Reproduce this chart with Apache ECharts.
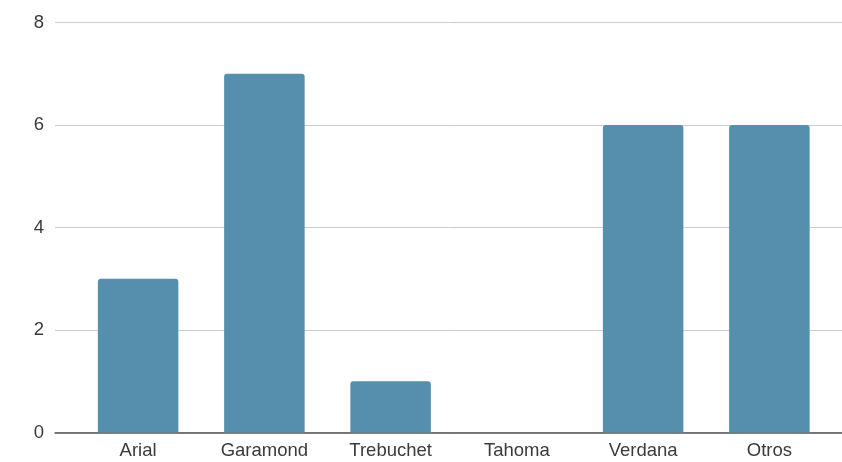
<!DOCTYPE html>
<html><head><meta charset="utf-8">
<script src="https://cdn.jsdelivr.net/npm/echarts@6/dist/echarts.min.js"></script>
<style>html,body{margin:0;padding:0;background:#fff}#c{width:842px;height:462px}</style>
</head><body><div id="c"></div>
<script>
const categories = ["Arial", "Garamond", "Trebuchet", "Tahoma", "Verdana", "Otros"];
const values = [3, 7, 1, 0, 6, 6];
const yTicks = [0, 2, 4, 6, 8];

const chart = echarts.init(document.getElementById('c'), null, {renderer: 'canvas'});
const font = 'Arial, "Liberation Sans", sans-serif';
chart.setOption({
  animation: false,
  backgroundColor: '#fff',
  grid: [
    {left: 55, right: 0, top: 22.5, bottom: 29.5},
    {left: 75, right: 9.5, top: 22.5, bottom: 29.5}
  ],
  xAxis: [
    {gridIndex: 0, type: 'category', data: categories, axisLabel: {show: false}, axisTick: {show: false},
     axisLine: {show: true, lineStyle: {color: '#555', width: 1.5}}, splitLine: {show: false}},
    {gridIndex: 1, type: 'category', data: categories, axisTick: {show: false}, axisLine: {show: false},
     axisLabel: {color: '#3a3a3a', fontSize: 18.5, fontFamily: font, margin: 9}}
  ],
  yAxis: [
    {gridIndex: 0, type: 'value', min: yTicks[0], max: yTicks[yTicks.length-1], interval: 2,
     axisLine: {show: false}, axisTick: {show: false},
     axisLabel: {color: '#3a3a3a', fontSize: 18.5, fontFamily: font, margin: 11},
     splitLine: {lineStyle: {color: '#cccccc', width: 1}}},
    {gridIndex: 1, type: 'value', min: yTicks[0], max: yTicks[yTicks.length-1], interval: 2, show: false}
  ],
  series: [{
    type: 'bar', xAxisIndex: 1, yAxisIndex: 1, data: values, barWidth: 80.5,
    itemStyle: {color: '#568fad', borderRadius: [3, 3, 0, 0]}
  }]
});
</script></body></html>
